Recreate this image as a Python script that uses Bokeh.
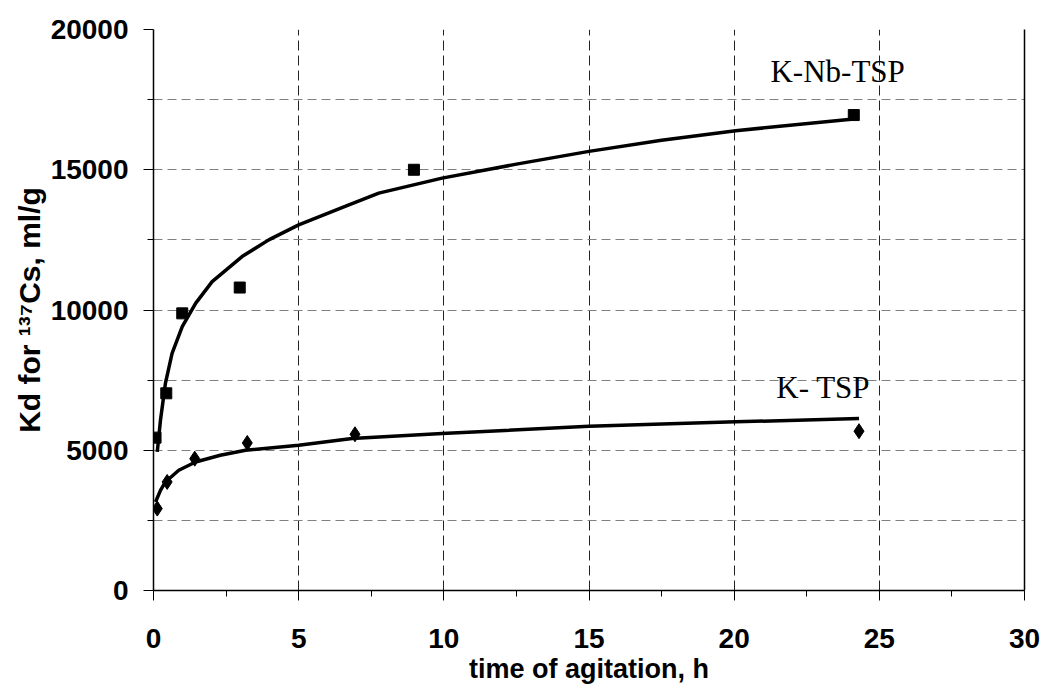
from bokeh.plotting import figure
from bokeh.models import Range1d, FixedTicker, LinearAxis, ColumnDataSource
from bokeh.core.properties import value
from bokeh.embed import file_html
from bokeh.resources import INLINE

# ---- data ----
nb_t = [0.07, 0.44, 0.99, 2.97, 8.97, 24.12]
nb_kd = [5450, 7030, 9880, 10800, 15000, 16950]

tsp_t = [0.13, 0.47, 1.42, 3.23, 6.94, 24.3]
tsp_kd = [2920, 3870, 4700, 5260, 5570, 5680]

fit_nb_t = [0.13, 0.24, 0.41, 0.64, 0.99, 1.45, 2.02, 3.05, 3.97, 5.0, 6.6, 7.76, 9.94, 12.5, 15.0, 17.5, 20.05, 24.12]
fit_nb_kd = [4940, 6071, 7381, 8452, 9405, 10238, 11012, 11905, 12500, 13036, 13690, 14167, 14702, 15200, 15655, 16050, 16393, 16810]

fit_tsp_t = [0.07, 0.24, 0.41, 0.87, 1.45, 2.3, 3.17, 5.0, 6.84, 9.94, 15.0, 20.05, 24.3]
fit_tsp_kd = [3155, 3571, 3869, 4286, 4583, 4820, 5000, 5179, 5417, 5595, 5857, 6012, 6131]

series_names = ["K-Nb-TSP", "K- TSP"]
name_t = [21.25, 21.45]
name_kd = [18500, 7250]

x_ticks = [0, 5, 10, 15, 20, 25, 30]
x_minor = [2.5, 7.5, 12.5, 17.5, 22.5, 27.5]
y_ticks = [0, 5000, 10000, 15000, 20000]
y_minor = [2500, 7500, 12500, 17500]
x_grid = [5, 10, 15, 20, 25]
y_grid = [2500, 5000, 7500, 10000, 12500, 15000, 17500, 20000]

x_title = "time of agitation, h"
y_title = "Kd for \u00b9\u00b3\u2077Cs, ml/g"

SANS = "Liberation Sans"
SERIF = "Liberation Serif"

p = figure(width=1045, height=694, x_range=Range1d(0, 30), y_range=Range1d(0, 20000),
           output_backend="svg", toolbar_location=None,
           min_border_left=153, min_border_right=21, min_border_top=29, min_border_bottom=104)
p.background_fill_color = "white"
p.border_fill_color = "white"
p.outline_line_color = None

# grids
p.xgrid.ticker = FixedTicker(ticks=x_grid)
p.xgrid.grid_line_color = "#222222"
p.xgrid.grid_line_dash = "10 5"
p.xgrid.grid_line_width = 1
p.ygrid.ticker = FixedTicker(ticks=y_grid)
p.ygrid.grid_line_color = "#808080"
p.ygrid.grid_line_dash = "9 5"
p.ygrid.grid_line_width = 1.2

# x axis
xa = p.xaxis[0]
xa.ticker = FixedTicker(ticks=x_ticks, minor_ticks=x_minor)
xa.axis_line_color = "black"
xa.axis_line_width = 1.5
xa.major_tick_out = 10
xa.major_tick_in = 0
xa.minor_tick_out = 6
xa.minor_tick_in = 0
xa.major_tick_line_color = "black"
xa.minor_tick_line_color = "black"
xa.major_label_standoff = 28
xa.major_label_text_font = SANS
xa.major_label_text_font_style = "bold"
xa.major_label_text_font_size = "28px"
xa.major_label_text_color = "black"
xa.axis_label = x_title
xa.axis_label_text_font = SANS
xa.axis_label_text_font_style = "bold"
xa.axis_label_text_font_size = "27px"
xa.axis_label_text_color = "black"
xa.axis_label_standoff = 3

# y axis
ya = p.yaxis[0]
ya.ticker = FixedTicker(ticks=y_ticks, minor_ticks=y_minor)
ya.axis_line_color = "black"
ya.axis_line_width = 1.5
ya.major_tick_out = 10
ya.major_tick_in = 0
ya.minor_tick_out = 6
ya.minor_tick_in = 0
ya.major_tick_line_color = "black"
ya.minor_tick_line_color = "black"
ya.major_label_standoff = 15
ya.major_label_text_font = SANS
ya.major_label_text_font_style = "bold"
ya.major_label_text_font_size = "28px"
ya.major_label_text_color = "black"
ya.axis_label = y_title
ya.axis_label_text_font = SANS
ya.axis_label_text_font_style = "bold"
ya.axis_label_text_font_size = "30px"
ya.axis_label_text_color = "black"
ya.axis_label_standoff = 2

# right border line
ra = LinearAxis(ticker=FixedTicker(ticks=[]), major_tick_line_color=None, minor_tick_line_color=None,
                major_label_text_font_size="0px", axis_line_color="black", axis_line_width=1.5)
p.add_layout(ra, "right")

# fitted curves
p.line(fit_nb_t, fit_nb_kd, line_width=3.5, line_color="black")
p.line(fit_tsp_t, fit_tsp_kd, line_width=3.5, line_color="black")

# markers
p.scatter(nb_t, nb_kd, marker="square", size=11, fill_color="black", line_color="black")
p.scatter(tsp_t, tsp_kd, marker="diamond", size=15, fill_color="black", line_color="black")

# series names
src = ColumnDataSource(dict(x=name_t, y=name_kd, text=series_names))
p.text(x="x", y="y", text="text", source=src, text_font=value(SERIF), text_font_size="31px",
       text_color="black", text_align="left", text_baseline="alphabetic")

open("out.html", "w").write(file_html(p, INLINE))
